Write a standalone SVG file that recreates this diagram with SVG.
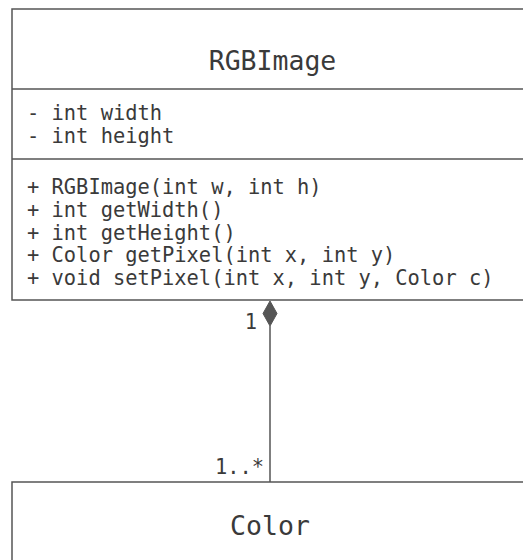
<svg xmlns="http://www.w3.org/2000/svg" width="523" height="560" viewBox="0 0 523 560">
<style>
.box{fill:#fff;stroke:#555;stroke-width:1.5}
.div{stroke:#555;stroke-width:1.5}
.t{font-family:"DejaVu Sans Mono","Liberation Mono",monospace;fill:#3a3a3a}
.big{font-size:26.5px}
.sm{font-size:20.4px}
.conn{stroke:#555;stroke-width:1.5;fill:none}
</style>
<rect width="523" height="560" fill="#fff"/>
<g id="RGBImage">
<rect class="box" x="12" y="9" width="530" height="291"/>
<line class="div" x1="12" y1="89" x2="542" y2="89"/>
<line class="div" x1="12" y1="159" x2="542" y2="159"/>
<text class="t big" x="272.5" y="70" text-anchor="middle">RGBImage</text>
<text class="t sm" x="27" y="119.5">- int width</text>
<text class="t sm" x="27" y="143">- int height</text>
<text class="t sm" x="27" y="194">+ RGBImage(int w, int h)</text>
<text class="t sm" x="27" y="216.8">+ int getWidth()</text>
<text class="t sm" x="27" y="239.6">+ int getHeight()</text>
<text class="t sm" x="27" y="262.4">+ Color getPixel(int x, int y)</text>
<text class="t sm" x="27" y="285.2">+ void setPixel(int x, int y, Color c)</text>
</g>
<g id="Color">
<rect class="box" x="12" y="482" width="530" height="100"/>
<text class="t big" x="270" y="535" text-anchor="middle">Color</text>
</g>
<g id="connectors">
<line class="conn" x1="270" y1="326" x2="270" y2="482"/>
<polygon points="270,301 277,313.5 270,326 263,313.5" fill="#555" stroke="#555" stroke-width="1"/>
<text class="t sm" x="257" y="329" text-anchor="end">1</text>
<text class="t sm" x="264" y="474" text-anchor="end">1..*</text>
</g>
</svg>
